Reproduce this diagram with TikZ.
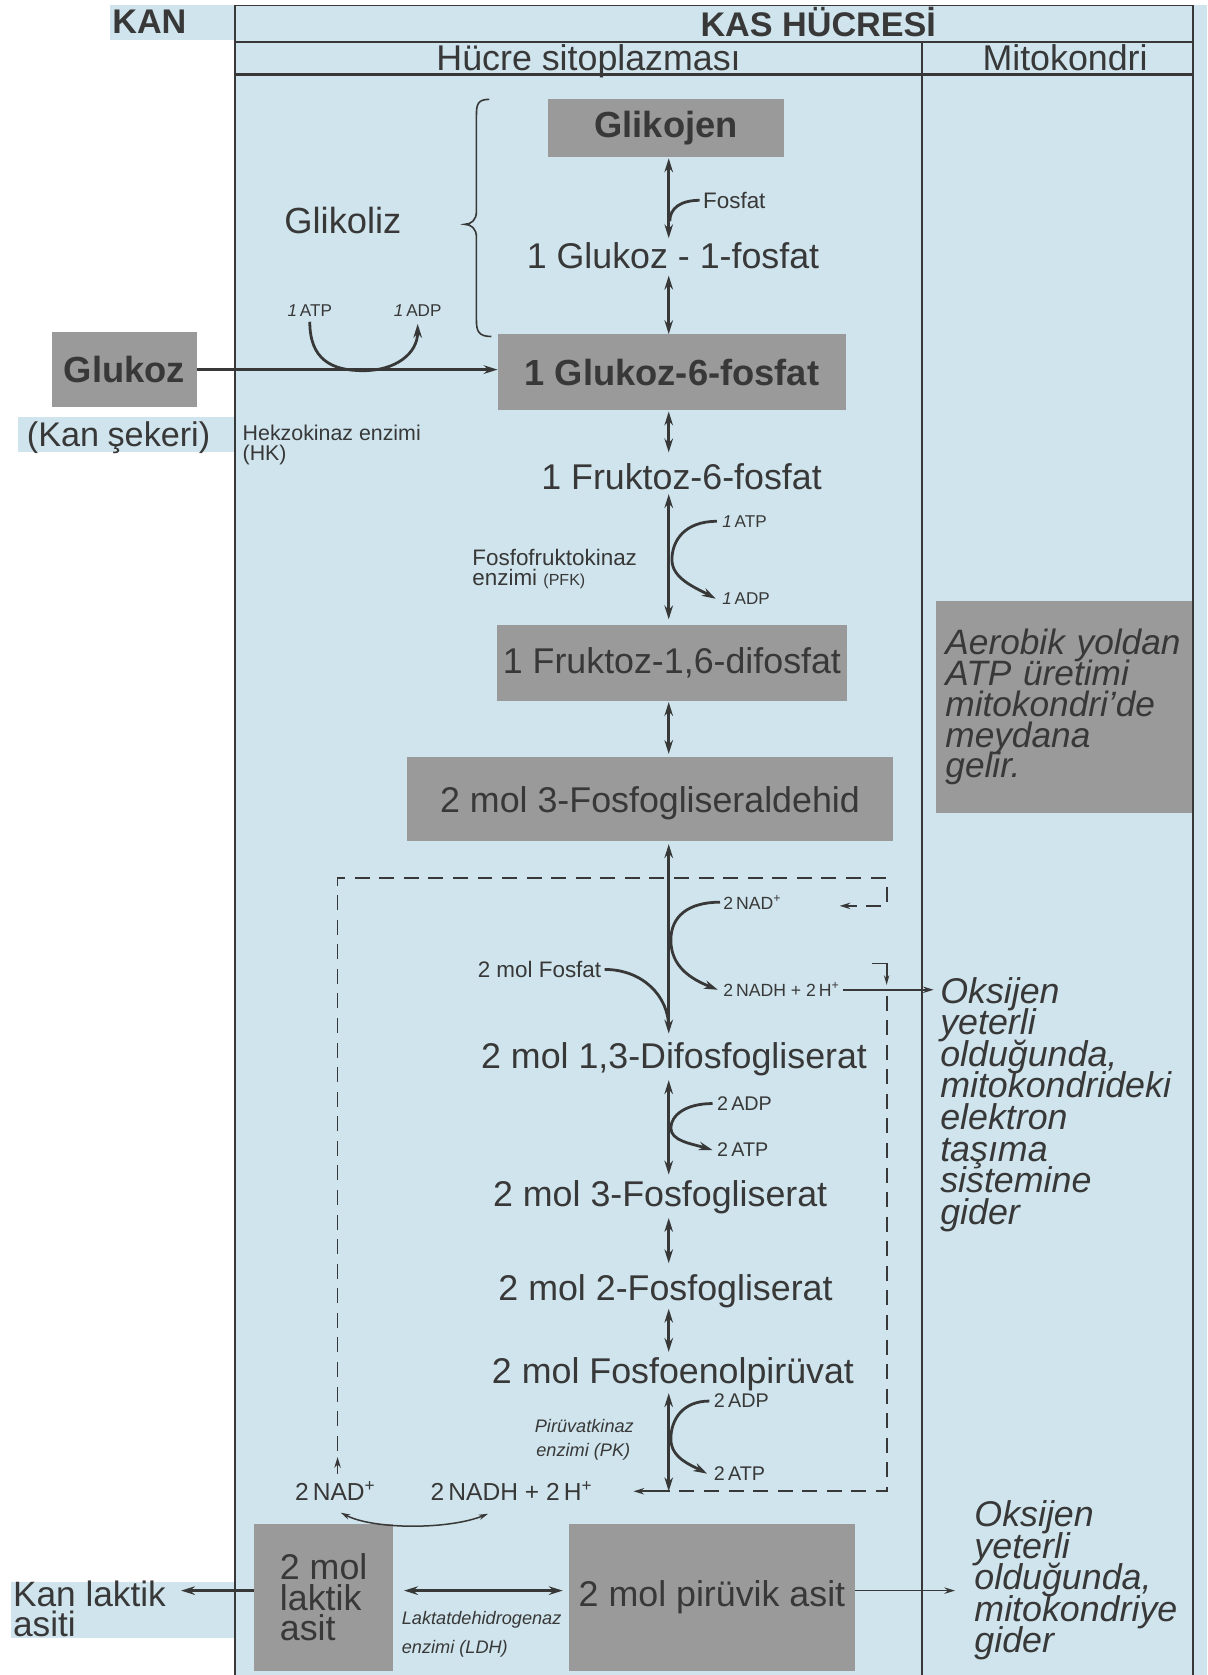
\documentclass[tikz,border=0pt]{standalone}
\usepackage{fontspec}
\setmainfont{Liberation Sans}
\usetikzlibrary{arrows.meta,calc}
\definecolor{bgblue}{HTML}{CFE4EC}
\definecolor{boxgray}{HTML}{9A9A9A}
\definecolor{ink}{HTML}{383838}
\newcommand\fs[1]{\fontsize{#1}{#1}\selectfont}
\newcommand\tightlines{\lineskiplimit=-100pt\lineskip=0pt}
\begin{document}
\begin{tikzpicture}[x=1pt,y=-1pt,
  every node/.style={inner sep=0pt, text=ink},
  gbox/.style={fill=boxgray, inner sep=0pt},
  big/.style={font=\fs{33.5}},
  bigb/.style={font=\bfseries\fs{34}},
  frameline/.style={draw=ink, line width=1.8pt},
  flow/.style={draw=ink, line width=2.6pt},
  arr/.style={flow, -{Stealth[length=13pt,width=8pt]}},
  darr/.style={flow, {Stealth[length=13pt,width=8pt]}-{Stealth[length=13pt,width=8pt]}},
  tarr/.style={draw=ink, line width=1.6pt, -{Stealth[length=10pt,width=6pt]}},
  dsh/.style={draw=ink, line width=1.6pt, dash pattern=on 14pt off 9pt},
]
\useasboundingbox (0,0) rectangle (1130,1568);
\fill[white] (0,0) rectangle (1130,1568);
\fill[bgblue] (220,5) rectangle (1130,1568);
\fill[bgblue] (103,5) rectangle (220,37);
\fill[bgblue] (17,390) rectangle (220,423);
\fill[bgblue] (10,1481) rectangle (220,1533);

% frame
\draw[ink, line width=1pt] (220,5) -- (1117,5);
\draw[frameline] (220,5) -- (220,1568);
\draw[frameline] (1117,5) -- (1117,1568);
\draw[frameline] (863,39) -- (863,1568);
\draw[frameline] (220,39) -- (1117,39);
\draw[frameline, line width=2.6pt] (220,70) -- (1117,70);

% headers
\node[font=\bfseries\fs{32}, anchor=base west] (kan) at (105,31) {KAN};
\node[font=\bfseries\fs{32}, anchor=base] (kas) at (766,34) {KAS HÜCRESİ};
\node[big, anchor=base] (sito) at (551,66) {Hücre sitoplazması};
\node[big, anchor=base] (mito) at (997,66) {Mitokondri};

% gray boxes
\node[gbox, minimum width=221pt, minimum height=54pt, bigb] (glikojen) at (623.5,120) {Glikojen};
\node[gbox, minimum width=326pt, minimum height=71pt, bigb] (g6p) at (629,348.5) {1 Glukoz-6-fosfat};
\node[gbox, minimum width=135pt, minimum height=70pt, bigb] (glukoz) at (116.5,346) {Glukoz};
\node[gbox, minimum width=328pt, minimum height=71pt, big] (f16p) at (629,620.5) {1 Fruktoz-1,6-difosfat};
\node[gbox, minimum width=455pt, minimum height=78pt, big, text depth=0pt] (g3p) at (608.5,748) {2 mol 3-Fosfogliseraldehid};
\node[gbox, minimum width=130pt, minimum height=137pt, font=\fontsize{33.5}{28.5}\selectfont\tightlines, align=left] (laktik) at (303,1495.5) {2 mol\\laktik\\asit};
\node[gbox, minimum width=267pt, minimum height=137pt, big] (piruvik) at (666.5,1495.5) {2 mol pirüvik asit};
\node[gbox, minimum width=240pt, minimum height=198pt, text width=222pt, align=left, font=\itshape\fontsize{33}{28.8}\selectfont\tightlines] (aerobik) at (996,662) {Aerobik yoldan\\ATP üretimi\\mitokondri'de\\meydana\\gelir.};

% plain labels
\node[big, anchor=base] (g1p) at (630,251.5) {1 Glukoz - 1-fosfat};
\node[big, anchor=base] (f6p) at (638,458) {1 Fruktoz-6-fosfat};
\node[big, anchor=base] (dpg) at (631,1000) {2 mol 1,3-Difosfogliserat};
\node[big, anchor=base] (pg3) at (618,1129) {2 mol 3-Fosfogliserat};
\node[big, anchor=base] (pg2) at (623,1217) {2 mol 2-Fosfogliserat};
\node[big, anchor=base] (pep) at (630,1295) {2 mol Fosfoenolpirüvat};
\node[font=\fs{34}, anchor=base] (glikoliz) at (321,219) {Glikoliz};
\node[font=\fs{32}, anchor=base] (kanseker) at (111,418) {(Kan\hspace{8pt}şekeri)};
\node[font=\fontsize{33}{28}\selectfont\tightlines, anchor=north west, align=left] (kanlak) at (12,1479.5) {Kan laktik\\asiti};
\node[font=\itshape\fontsize{33.5}{29.6}\selectfont\tightlines, anchor=north west, align=left] (oks1) at (880,914.5) {Oksijen\\yeterli\\olduğunda,\\mitokondrideki\\elektron\\taşıma\\sistemine\\gider};
\node[font=\itshape\fontsize{33.5}{29.6}\selectfont\tightlines, anchor=north west, align=left] (oks2) at (912,1404.5) {Oksijen\\yeterli\\olduğunda,\\mitokondriye\\gider};

% small labels
\node[font=\fs{21}, anchor=base west] (fosfat1) at (658,195) {Fosfat};
\node[font=\fs{16}, anchor=base] (atp1) at (290,296) {\textit{1}\,ATP};
\node[font=\fs{16}, anchor=base] (adp1) at (391,296) {\textit{1}\,ADP};
\node[font=\fs{20}, anchor=base west] (hk1) at (227,412) {Hekzokinaz enzimi};
\node[font=\fs{20}, anchor=base west] (hk2) at (227,431) {(HK)};
\node[font=\fs{16}, anchor=base west] (atp2) at (676,493.5) {\textit{1}\,ATP};
\node[font=\fs{16}, anchor=base west] (adp2) at (676,566) {\textit{1}\,ADP};
\node[font=\fs{21}, anchor=base west] (pfk1) at (442,529) {Fosfofruktokinaz};
\node[font=\fs{21}, anchor=base west] (pfk2) at (442,548) {enzimi {\fs{15}(PFK)}};
\node[font=\fs{16.5}, anchor=base west] (nad1) at (677,851) {2\,NAD\textsuperscript{+}};
\node[font=\fs{16.5}, anchor=base west] (nadh1) at (677,933) {2\,NADH + 2\,H\textsuperscript{+}};
\node[font=\fs{21}, anchor=base east] (fosfat2) at (563,915) {2 mol Fosfat};
\node[font=\fs{18.5}, anchor=base west] (adp3) at (671,1039.5) {2\,ADP};
\node[font=\fs{18.5}, anchor=base west] (atp3) at (671,1083) {2\,ATP};
\node[font=\fs{18.5}, anchor=base west] (adp4) at (668,1318) {2\,ADP};
\node[font=\fs{18.5}, anchor=base west] (atp4) at (668,1386) {2\,ATP};
\node[font=\itshape\fs{17}, anchor=base] (pk1) at (547,1341) {Pirüvatkinaz};
\node[font=\itshape\fs{17}, anchor=base] (pk2) at (546,1363) {enzimi (PK)};
\node[font=\fs{23}, anchor=base west] (nadL) at (276,1405) {2\,NAD\textsuperscript{+}};
\node[font=\fs{23}, anchor=base west] (nadhL) at (403,1405) {2\,NADH + 2\,H\textsuperscript{+}};
\node[font=\itshape\fs{17}, anchor=base west] (ldh1) at (376,1521) {Laktatdehidrogenaz};
\node[font=\itshape\fs{17}, anchor=base west] (ldh2) at (376,1548) {enzimi (LDH)};

% brace
\draw[ink, line width=1.5pt] (458,93) .. controls (447,93) and (446,98) .. (446,108) -- (446,198) .. controls (446,206) and (441,210) .. (435,210) .. controls (441,210) and (446,214) .. (446,222) -- (446,300) .. controls (446,310) and (448,315) .. (460,315);

% spine arrows
\coordinate (sp) at (626,0);
\coordinate (pkend) at (626,1396);
\draw[darr, shorten <=1pt, shorten >=4pt] (glikojen.south -| sp) -- (g1p.north -| sp);
\draw[darr, shorten <=6pt] (g1p.south -| sp) -- (g6p.north -| sp);
\draw[darr, shorten <=1pt, shorten >=10pt] (g6p.south -| sp) -- (f6p.north -| sp);
\draw[darr, shorten <=4pt, shorten >=5pt] (f6p.south -| sp) -- (f16p.north -| sp);
\draw[darr, shorten <=1pt, shorten >=3pt] (f16p.south -| sp) -- (g3p.north -| sp);
\draw[darr, shorten <=3pt, shorten >=8pt] (g3p.south -| sp) -- (dpg.north -| sp);
\draw[darr, shorten <=4pt, shorten >=5pt] (dpg.south -| sp) -- (pg3.north -| sp);
\draw[darr, shorten <=4pt, shorten >=10pt] (pg3.south -| sp) -- (pg2.north -| sp);
\draw[darr, shorten <=1pt, shorten >=5pt] (pg2.south -| sp) -- (pep.north -| sp);
\draw[darr, shorten <=2pt] (pep.south -| sp) -- (pkend);

% side reactions
\draw[flow] ([xshift=-3pt]fosfat1.west) .. controls +(-18,0) and +(0,-12) .. (627,207);
\coordinate (hkmid) at (340,347);
\draw[arr, shorten <=5pt, shorten >=7pt] (atp1.south) .. controls +(0,40) and +(-30,0) .. (hkmid) .. controls +(30,0) and +(0,35) .. (adp1.south);
\draw[arr] (glukoz.east) -- (glukoz.east -| g6p.west);
\draw[arr] ([xshift=-5pt]atp2.west) .. controls +(-30,0) and +(0,-18) .. (629,524) .. controls +(0,18) and +(-18,-10) .. ([xshift=-6pt]adp2.west);
\draw[arr] ([xshift=-3pt]nad1.west) .. controls +(-30,0) and +(0,-22) .. (628,880) .. controls +(0,25) and +(-25,-10) .. ([xshift=-5pt]nadh1.west);
\draw[flow] ([xshift=3pt]fosfat2.east) .. controls +(35,0) and +(0,-30) .. (626,962);
\draw[arr] ([xshift=-4pt]adp3.west) .. controls +(-25,0) and +(0,-12) .. (628,1056) .. controls +(0,12) and +(-20,-6) .. ([xshift=-4pt]atp3.west);
\draw[arr] ([xshift=-4pt]adp4.west) .. controls +(-25,0) and +(0,-18) .. (628,1347) .. controls +(0,18) and +(-15,-8) .. ([xshift=-6pt]atp4.west);
\draw[tarr, shorten <=3pt, shorten >=6pt] (nadh1.east) -- (nadh1.east -| oks1.west);

% bottom
\draw[darr, shorten <=10pt, shorten >=6pt] ([yshift=6.5pt]laktik.east) -- ([yshift=6.5pt]piruvik.west);
\draw[arr, shorten >=14pt] ([yshift=6.5pt]laktik.west) -- ([yshift=6.5pt]laktik.west -| kanlak.east);
\draw[tarr, shorten >=18pt] ([yshift=6.5pt]piruvik.east) -- ([yshift=6.5pt]piruvik.east -| oks2.west);
\coordinate (bl1) at (319,1416);
\coordinate (bl2) at (457,1417);
\draw[draw=ink, line width=1.4pt, {Stealth[length=9pt,width=5pt]}-{Stealth[length=9pt,width=5pt]}] (bl1) .. controls (350,1432) and (420,1432) .. (bl2);

% dashed NAD loops
\coordinate (la) at (316,1380);
\coordinate (la2) at (316,1364);
\coordinate (la3) at (316,1358);
\coordinate (lb) at (316,822);
\coordinate (lc) at (830,822);
\coordinate (ld) at (830,848);
\coordinate (le) at (786,848);
\draw[tarr] (la) -- (la2);
\draw[dsh, -{Stealth[length=10pt,width=6pt]}] (la3) -- (lb) -- (lc) -- (ld) -- (le);
\coordinate (ra) at (816,902);
\coordinate (rb) at (830,902);
\coordinate (rc) at (830,922);
\coordinate (rd) at (830,932);
\coordinate (re) at (830,1396);
\coordinate (nadhin) at (593,1396);
\draw[draw=ink, line width=1.6pt, -{Stealth[length=9pt,width=5pt]}] (ra) -- (rb) -- (rc);
\draw[dsh] (rd) -- (re) -- (pkend);
\draw[tarr] (pkend) -- (nadhin);
\end{tikzpicture}
\end{document}
